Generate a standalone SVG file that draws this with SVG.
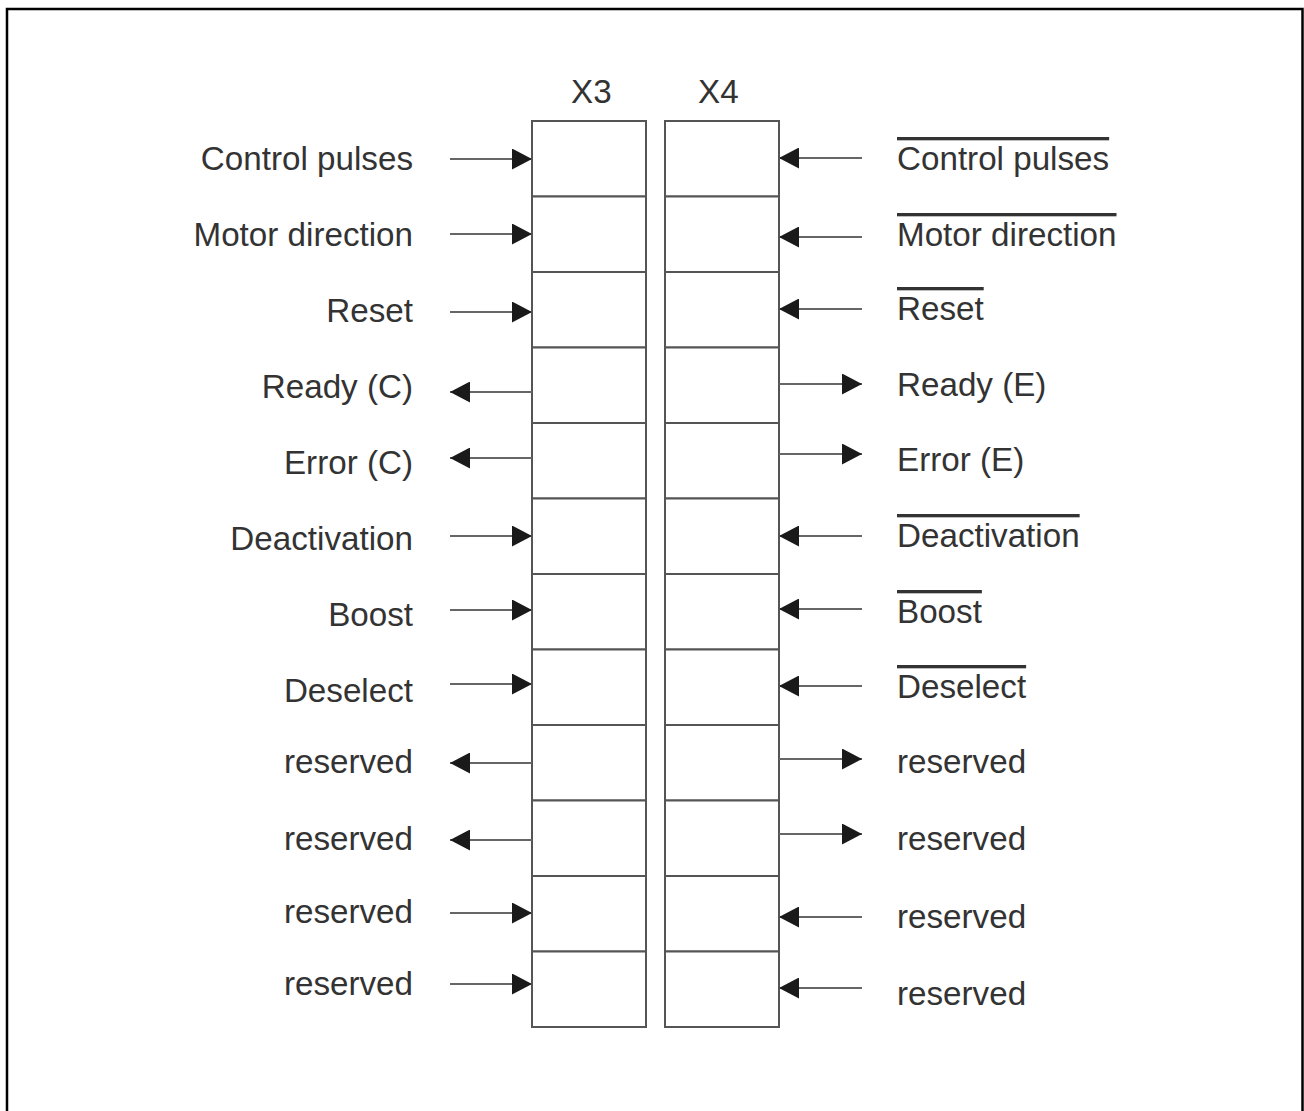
<svg xmlns="http://www.w3.org/2000/svg" width="1304" height="1111" viewBox="0 0 1304 1111">
<defs>
<style>
.frame{fill:none;stroke:#000;stroke-width:2.5}
.cell{fill:#fff;stroke:#555;stroke-width:2}
.wire{stroke:#666;stroke-width:2;fill:none}
text{font-family:"Liberation Sans",Arial,sans-serif;font-size:33.2px;fill:#333}
.l{text-anchor:end}
.ov{text-decoration:overline}
</style>
<marker id="ah" viewBox="0 0 20 21" markerWidth="20" markerHeight="21" refX="20" refY="10.5" orient="auto" markerUnits="userSpaceOnUse">
<path d="M0,0 L20,10.5 L0,21 z" fill="#1a1a1a"/>
</marker>
</defs>
<rect class="frame" x="7" y="9" width="1295.5" height="1110"/>
<g id="X3">
<text x="571" y="103">X3</text>
<rect class="cell" x="532" y="121" width="114" height="75.5"/>
<rect class="cell" x="532" y="196.5" width="114" height="75.5"/>
<rect class="cell" x="532" y="272" width="114" height="75.5"/>
<rect class="cell" x="532" y="347.5" width="114" height="75.5"/>
<rect class="cell" x="532" y="423" width="114" height="75.5"/>
<rect class="cell" x="532" y="498.5" width="114" height="75.5"/>
<rect class="cell" x="532" y="574" width="114" height="75.5"/>
<rect class="cell" x="532" y="649.5" width="114" height="75.5"/>
<rect class="cell" x="532" y="725" width="114" height="75.5"/>
<rect class="cell" x="532" y="800.5" width="114" height="75.5"/>
<rect class="cell" x="532" y="876" width="114" height="75.5"/>
<rect class="cell" x="532" y="951.5" width="114" height="75.5"/>
</g>
<g id="X4">
<text x="698" y="103">X4</text>
<rect class="cell" x="665" y="121" width="114" height="75.5"/>
<rect class="cell" x="665" y="196.5" width="114" height="75.5"/>
<rect class="cell" x="665" y="272" width="114" height="75.5"/>
<rect class="cell" x="665" y="347.5" width="114" height="75.5"/>
<rect class="cell" x="665" y="423" width="114" height="75.5"/>
<rect class="cell" x="665" y="498.5" width="114" height="75.5"/>
<rect class="cell" x="665" y="574" width="114" height="75.5"/>
<rect class="cell" x="665" y="649.5" width="114" height="75.5"/>
<rect class="cell" x="665" y="725" width="114" height="75.5"/>
<rect class="cell" x="665" y="800.5" width="114" height="75.5"/>
<rect class="cell" x="665" y="876" width="114" height="75.5"/>
<rect class="cell" x="665" y="951.5" width="114" height="75.5"/>
</g>
<g id="labels-left">
<text class="l" x="413" y="170">Control pulses</text>
<text class="l" x="413" y="246">Motor direction</text>
<text class="l" x="413" y="322">Reset</text>
<text class="l" x="413" y="398">Ready (C)</text>
<text class="l" x="413" y="474">Error (C)</text>
<text class="l" x="413" y="550">Deactivation</text>
<text class="l" x="413" y="626">Boost</text>
<text class="l" x="413" y="702">Deselect</text>
<text class="l" x="413" y="773">reserved</text>
<text class="l" x="413" y="850">reserved</text>
<text class="l" x="413" y="923">reserved</text>
<text class="l" x="413" y="995">reserved</text>
</g>
<g id="labels-right">
<text class="ov" x="897" y="170">Control pulses</text>
<text class="ov" x="897" y="246">Motor direction</text>
<text class="ov" x="897" y="320">Reset</text>
<text x="897" y="396">Ready (E)</text>
<text x="897" y="471">Error (E)</text>
<text class="ov" x="897" y="547">Deactivation</text>
<text class="ov" x="897" y="623">Boost</text>
<text class="ov" x="897" y="698">Deselect</text>
<text x="897" y="773">reserved</text>
<text x="897" y="850">reserved</text>
<text x="897" y="928">reserved</text>
<text x="897" y="1005">reserved</text>
</g>
<g id="connectors">
<line class="wire" x1="450" y1="159" x2="532" y2="159" marker-end="url(#ah)"/>
<line class="wire" x1="450" y1="234" x2="532" y2="234" marker-end="url(#ah)"/>
<line class="wire" x1="450" y1="312" x2="532" y2="312" marker-end="url(#ah)"/>
<line class="wire" x1="532" y1="392" x2="450" y2="392" marker-end="url(#ah)"/>
<line class="wire" x1="532" y1="458" x2="450" y2="458" marker-end="url(#ah)"/>
<line class="wire" x1="450" y1="536" x2="532" y2="536" marker-end="url(#ah)"/>
<line class="wire" x1="450" y1="610" x2="532" y2="610" marker-end="url(#ah)"/>
<line class="wire" x1="450" y1="684" x2="532" y2="684" marker-end="url(#ah)"/>
<line class="wire" x1="532" y1="763" x2="450" y2="763" marker-end="url(#ah)"/>
<line class="wire" x1="532" y1="840" x2="450" y2="840" marker-end="url(#ah)"/>
<line class="wire" x1="450" y1="913" x2="532" y2="913" marker-end="url(#ah)"/>
<line class="wire" x1="450" y1="984" x2="532" y2="984" marker-end="url(#ah)"/>
<line class="wire" x1="862" y1="158" x2="779" y2="158" marker-end="url(#ah)"/>
<line class="wire" x1="862" y1="237" x2="779" y2="237" marker-end="url(#ah)"/>
<line class="wire" x1="862" y1="309" x2="779" y2="309" marker-end="url(#ah)"/>
<line class="wire" x1="779" y1="384" x2="862" y2="384" marker-end="url(#ah)"/>
<line class="wire" x1="779" y1="454" x2="862" y2="454" marker-end="url(#ah)"/>
<line class="wire" x1="862" y1="536" x2="779" y2="536" marker-end="url(#ah)"/>
<line class="wire" x1="862" y1="609" x2="779" y2="609" marker-end="url(#ah)"/>
<line class="wire" x1="862" y1="686" x2="779" y2="686" marker-end="url(#ah)"/>
<line class="wire" x1="779" y1="759" x2="862" y2="759" marker-end="url(#ah)"/>
<line class="wire" x1="779" y1="834" x2="862" y2="834" marker-end="url(#ah)"/>
<line class="wire" x1="862" y1="917" x2="779" y2="917" marker-end="url(#ah)"/>
<line class="wire" x1="862" y1="988" x2="779" y2="988" marker-end="url(#ah)"/>
</g>
</svg>
